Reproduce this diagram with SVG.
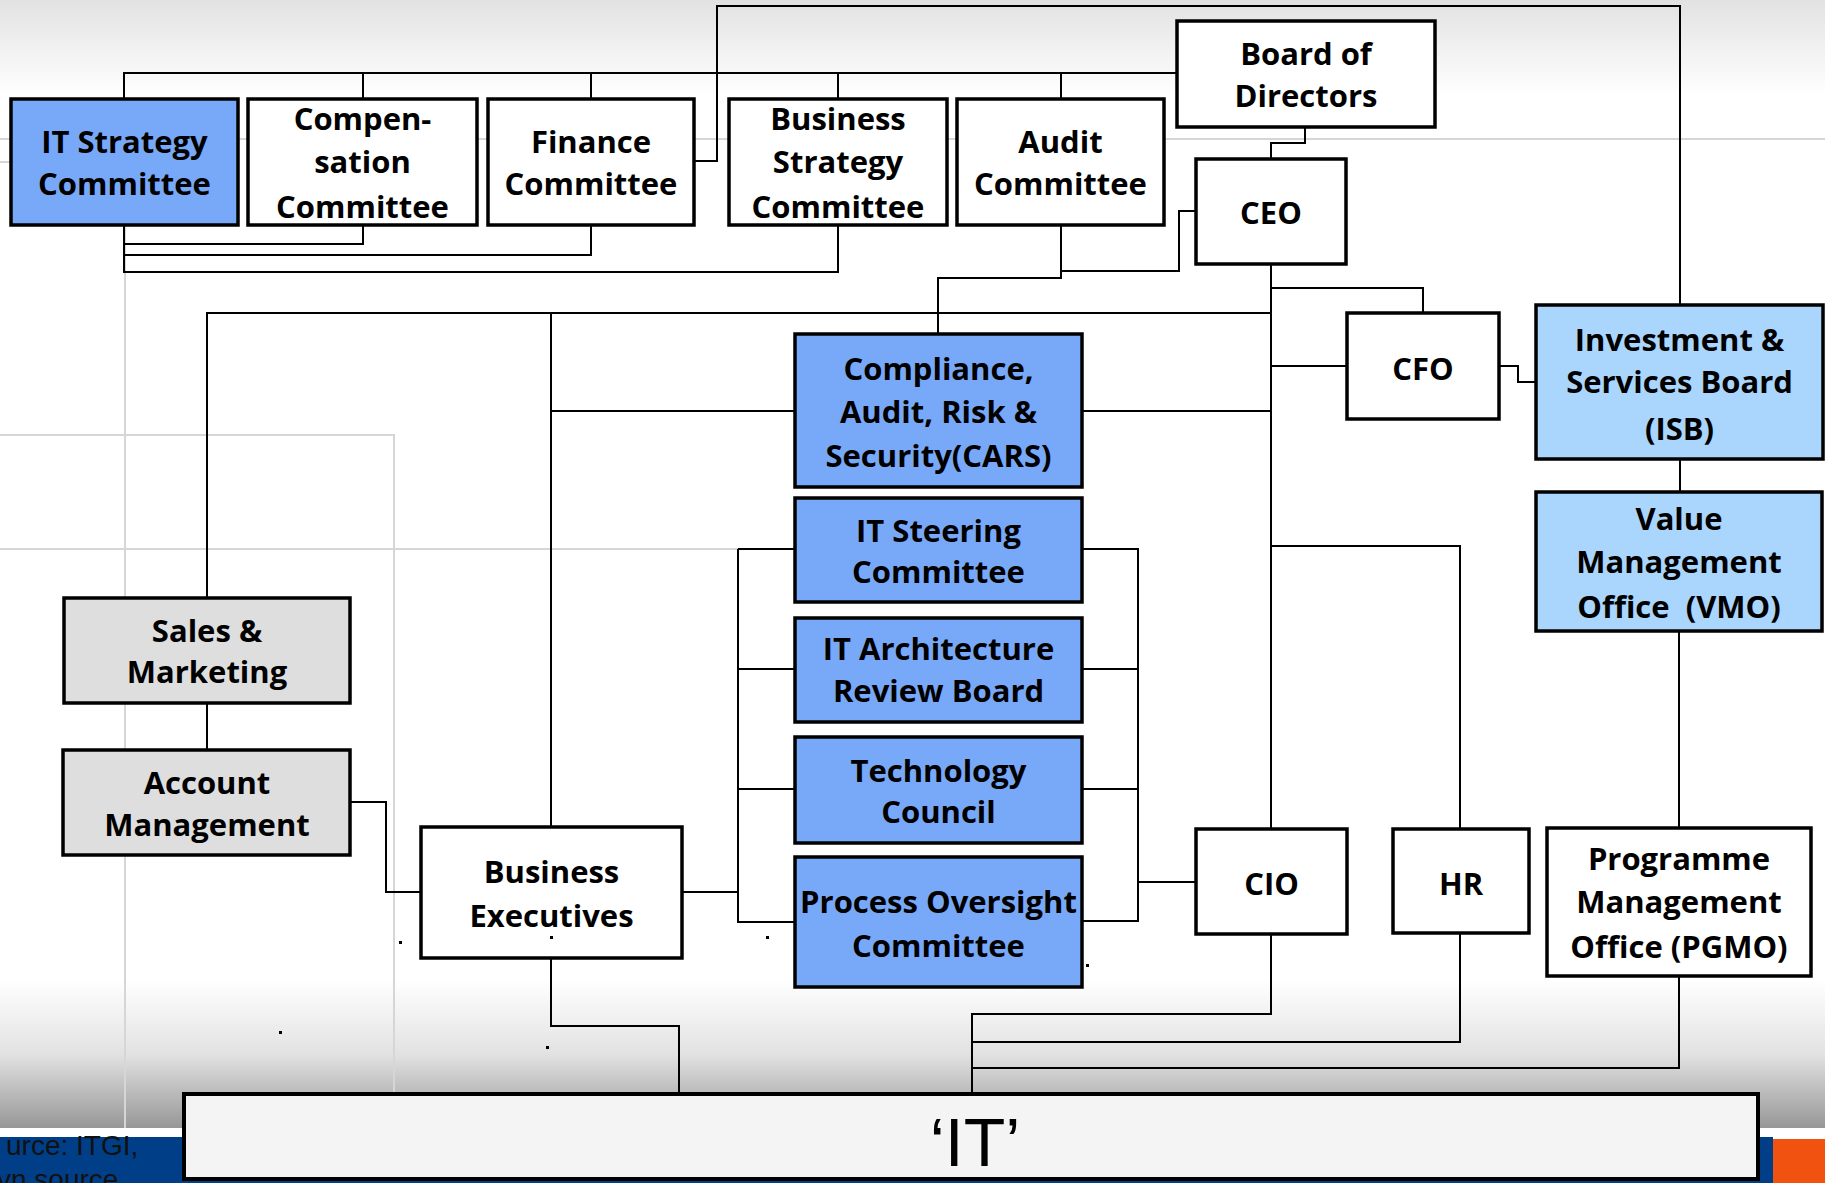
<svg xmlns="http://www.w3.org/2000/svg" width="1825" height="1183" viewBox="0 0 1825 1183">
<defs>
<linearGradient id="topg" x1="0" y1="0" x2="0" y2="1"><stop offset="0" stop-color="#e2e2e2"/><stop offset="1" stop-color="#ffffff"/></linearGradient>
<linearGradient id="botg" x1="0" y1="0" x2="0" y2="1"><stop offset="0" stop-color="#ffffff"/><stop offset="0.5" stop-color="#e2e2e2"/><stop offset="1" stop-color="#979797"/></linearGradient>
<style>
.bx{stroke:#000;stroke-width:3.5}
.w{fill:#ffffff}
.b{fill:#78a9f9}
.lb{fill:#aad5fc}
.g{fill:#dedede}
.t{font-family:"Open Sans","Liberation Sans",sans-serif;font-weight:bold;font-size:31px;fill:#000;text-anchor:middle}
.c line,.c polyline{stroke:#000;stroke-width:2;fill:none}
.bg{stroke:#d6d6d6;stroke-width:2;fill:none}
</style>
</defs>
<rect x="0" y="0" width="1825" height="1183" fill="#ffffff"/>
<rect x="0" y="0" width="1825" height="95" fill="url(#topg)"/>
<rect x="0" y="980" width="1825" height="148" fill="url(#botg)"/>
<rect x="0" y="1137" width="1773" height="46" fill="#003f87"/>
<rect x="1773" y="1139" width="52" height="44" fill="#f2520f"/>
<g id="background-lines">
<line class="bg" x1="0" y1="139" x2="1825" y2="139" stroke-width="3" stroke="#e6e6e6"/>
<line class="bg" x1="0" y1="162" x2="11" y2="162"/>
<line class="bg" x1="125" y1="226" x2="125" y2="1128" stroke="#ebebeb"/>
<polyline class="bg" points="0,435 394,435 394,1128"/>
<line class="bg" x1="0" y1="549" x2="738" y2="549" stroke="#b8b8b8"/>
</g>
<text x="6" y="1155" font-family="Liberation Sans, Arial, sans-serif" font-size="28" fill="#111">urce: ITGI,</text>
<text x="-3" y="1189" font-family="Liberation Sans, Arial, sans-serif" font-size="28" fill="#111">vn source</text>

<g id="connectors" class="c">
<polyline points="124,98 124,73 1177,73"/>
<line x1="363" y1="73" x2="363" y2="98"/>
<line x1="591" y1="73" x2="591" y2="98"/>
<line x1="838" y1="73" x2="838" y2="98"/>
<line x1="1061" y1="73" x2="1061" y2="98"/>
<polyline points="694,161 717,161 717,6 1680,6 1680,305"/>
<polyline points="124,225 124,272 838,272 838,225"/>
<polyline points="124,244 363,244 363,225"/>
<polyline points="124,255 591,255 591,225"/>
<polyline points="1061,225 1061,278 938,278 938,333"/>
<polyline points="1061,271 1179,271 1179,211 1196,211"/>
<polyline points="1305,127 1305,143 1271,143 1271,158"/>
<line x1="1271" y1="264" x2="1271" y2="828" stroke-width="2.5"/>
<polyline points="1271,288 1423,288 1423,312"/>
<line x1="1271" y1="366" x2="1347" y2="366"/>
<polyline points="1499,366 1518,366 1518,382 1536,382"/>
<line x1="1680" y1="459" x2="1680" y2="492"/>
<line x1="1679" y1="631" x2="1679" y2="827"/>
<line x1="551" y1="313" x2="1271" y2="313" stroke-width="3"/>
<polyline points="207,597 207,313 551,313"/>
<line x1="551" y1="313" x2="551" y2="826"/>
<line x1="551" y1="411" x2="795" y2="411"/>
<line x1="1082" y1="411" x2="1271" y2="411"/>
<polyline points="1271,546 1460,546 1460,828"/>
<line x1="207" y1="703" x2="207" y2="749"/>
<polyline points="350,802 386,802 386,892 421,892"/>
<line x1="682" y1="892" x2="738" y2="892"/>
<line x1="738" y1="549" x2="795" y2="549" stroke="#9a9a9a"/>
<polyline points="738,549 738,922 795,922"/>
<line x1="738" y1="669" x2="795" y2="669"/>
<line x1="738" y1="789" x2="795" y2="789"/>
<polyline points="1082,549 1138,549 1138,921 1082,921"/>
<line x1="1082" y1="669" x2="1138" y2="669"/>
<line x1="1082" y1="789" x2="1138" y2="789"/>
<line x1="1138" y1="882" x2="1196" y2="882" stroke-width="3"/>
<polyline points="551,958 551,1026 679,1026 679,1093"/>
<polyline points="1271,934 1271,1014 972,1014 972,1093"/>
<polyline points="1460,933 1460,1042 972,1042"/>
<polyline points="1679,976 1679,1068 972,1068"/>
</g>

<g id="it-strategy"><rect class="bx b" x="11" y="99" width="227" height="126"/><text class="t" x="124.5" y="153">IT Strategy</text><text class="t" x="124.5" y="195">Committee</text></g>
<g id="compensation"><rect class="bx w" x="248" y="99" width="229" height="126"/><text class="t" x="362.5" y="130">Compen-</text><text class="t" x="362.5" y="173">sation</text><text class="t" x="362.5" y="218">Committee</text></g>
<g id="finance"><rect class="bx w" x="488" y="99" width="206" height="126"/><text class="t" x="591" y="153">Finance</text><text class="t" x="591" y="195">Committee</text></g>
<g id="business-strategy"><rect class="bx w" x="729" y="99" width="218" height="126"/><text class="t" x="838" y="130">Business</text><text class="t" x="838" y="173">Strategy</text><text class="t" x="838" y="218">Committee</text></g>
<g id="audit"><rect class="bx w" x="957" y="99" width="207" height="126"/><text class="t" x="1060.5" y="153">Audit</text><text class="t" x="1060.5" y="195">Committee</text></g>
<g id="board"><rect class="bx w" x="1177" y="21" width="258" height="106"/><text class="t" x="1306" y="65">Board of</text><text class="t" x="1306" y="107">Directors</text></g>
<g id="ceo"><rect class="bx w" x="1196" y="159" width="150" height="105"/><text class="t" x="1271" y="224">CEO</text></g>
<g id="cfo"><rect class="bx w" x="1347" y="313" width="152" height="106"/><text class="t" x="1423" y="380">CFO</text></g>
<g id="isb"><rect class="bx lb" x="1536" y="305" width="287" height="154"/><text class="t" x="1679.5" y="351">Investment &amp;</text><text class="t" x="1679.5" y="393">Services Board</text><text class="t" x="1679.5" y="440">(ISB)</text></g>
<g id="vmo"><rect class="bx lb" x="1536" y="492" width="286" height="139"/><text class="t" x="1679" y="530">Value</text><text class="t" x="1679" y="573">Management</text><text class="t" x="1679" y="618" xml:space="preserve">Office  (VMO)</text></g>
<g id="cars"><rect class="bx b" x="795" y="334" width="287" height="153"/><text class="t" x="938.5" y="380">Compliance,</text><text class="t" x="938.5" y="423">Audit, Risk &amp;</text><text class="t" x="938.5" y="467">Security(CARS)</text></g>
<g id="it-steering"><rect class="bx b" x="795" y="498" width="287" height="104"/><text class="t" x="938.5" y="542">IT Steering</text><text class="t" x="938.5" y="583">Committee</text></g>
<g id="it-architecture"><rect class="bx b" x="795" y="618" width="287" height="104"/><text class="t" x="938.5" y="660">IT Architecture</text><text class="t" x="938.5" y="702">Review Board</text></g>
<g id="technology-council"><rect class="bx b" x="795" y="737" width="287" height="106"/><text class="t" x="938.5" y="782">Technology</text><text class="t" x="938.5" y="823">Council</text></g>
<g id="process-oversight"><rect class="bx b" x="795" y="857" width="287" height="130"/><text class="t" x="938.5" y="913">Process Oversight</text><text class="t" x="938.5" y="957">Committee</text></g>
<g id="sales-marketing"><rect class="bx g" x="64" y="598" width="286" height="105"/><text class="t" x="207" y="642">Sales &amp;</text><text class="t" x="207" y="683">Marketing</text></g>
<g id="account-management"><rect class="bx g" x="63" y="750" width="287" height="105"/><text class="t" x="207" y="794">Account</text><text class="t" x="207" y="836">Management</text></g>
<g id="business-executives"><rect class="bx w" x="421" y="827" width="261" height="131"/><text class="t" x="551.5" y="883">Business</text><text class="t" x="551.5" y="927">Executives</text></g>
<g id="cio"><rect class="bx w" x="1196" y="829" width="151" height="105"/><text class="t" x="1271.5" y="895">CIO</text></g>
<g id="hr"><rect class="bx w" x="1393" y="829" width="136" height="104"/><text class="t" x="1461" y="895">HR</text></g>
<g id="pgmo"><rect class="bx w" x="1547" y="828" width="264" height="148"/><text class="t" x="1679" y="870">Programme</text><text class="t" x="1679" y="913">Management</text><text class="t" x="1679" y="958">Office (PGMO)</text></g>
<g id="it"><rect x="184" y="1094" width="1574" height="85" fill="#f4f4f4" stroke="#000" stroke-width="4"/><text x="975" y="1166" font-family="Liberation Sans, Arial, sans-serif" font-size="68" text-anchor="middle" fill="#000">‘IT’</text></g>
<g id="dots" fill="#000">
<rect x="399" y="941" width="3" height="3"/><rect x="550" y="936" width="3" height="3"/><rect x="766" y="936" width="3" height="3"/><rect x="279" y="1031" width="3" height="3"/><rect x="546" y="1046" width="3" height="3"/><rect x="1086" y="964" width="3" height="3"/>
</g>
</svg>
